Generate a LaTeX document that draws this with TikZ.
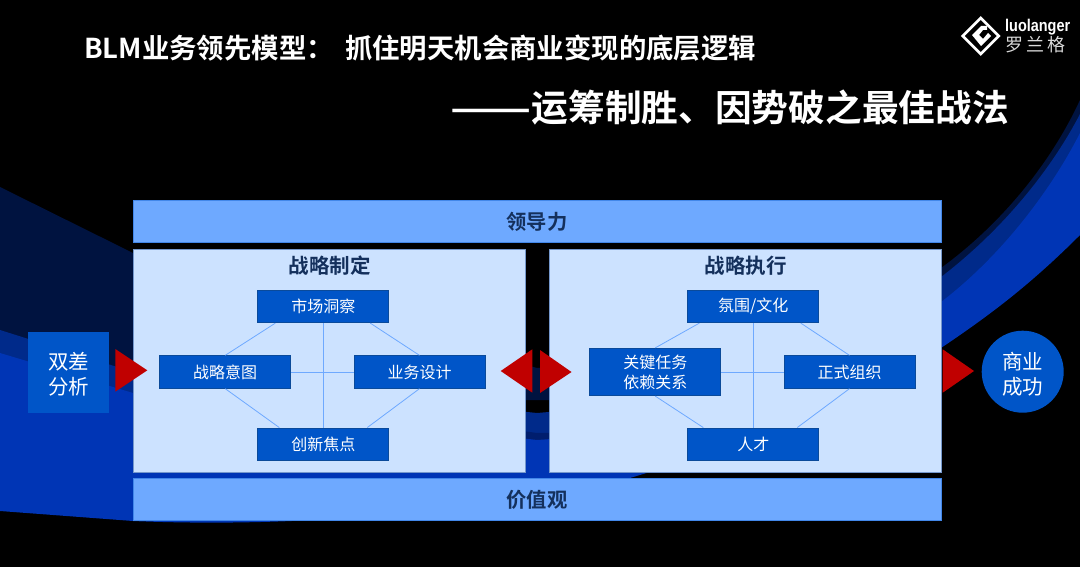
\documentclass[tikz,border=0pt]{standalone}
\usepackage{fontspec}
\setmainfont{Noto Sans CJK SC}
\newfontfamily\boldcjk{Noto Sans CJK SC Bold}
\newfontfamily\latinb{Liberation Sans Bold}
\definecolor{navy}{HTML}{001340}
\definecolor{midband}{HTML}{002A8A}
\definecolor{sliver}{HTML}{001E6E}
\definecolor{bright}{HTML}{0035B5}
\definecolor{barblue}{HTML}{6EA9FF}
\definecolor{panel}{HTML}{CCE2FF}
\definecolor{boxblue}{HTML}{0055C8}
\definecolor{boxedge}{HTML}{0A4A9A}
\definecolor{titledark}{HTML}{14305C}
\definecolor{tri}{HTML}{C00000}
\definecolor{linkblue}{HTML}{6EA9FF}
\tikzset{
 bar/.style={draw=barblue!60!boxblue,line width=.6pt,fill=barblue,minimum width=808pt,minimum height=42pt,inner sep=0pt,text=titledark,font=\boldcjk\fontsize{20.3}{22}\selectfont},
 panelbox/.style={draw=barblue!60!gray,line width=.7pt,fill=panel,inner sep=0pt},
 item/.style={draw=boxedge,line width=.8pt,fill=boxblue,inner sep=0pt,minimum width=131pt,minimum height=32.5pt,text=white,align=center,font=\fontsize{16}{20}\selectfont},
 side/.style={text=white,fill=boxblue,inner sep=0pt,align=center,font=\fontsize{20.5}{25}\selectfont},
 head/.style={text=titledark,font=\boldcjk\fontsize{20.5}{22}\selectfont,inner sep=0pt},
 link/.style={draw=linkblue,line width=.8pt},
 arrowtri/.style={fill=tri,draw=none},
 title/.style={text=white,inner sep=0pt,anchor=west},
}
\begin{document}
\begin{tikzpicture}[x=1pt,y=-1pt]
\path[use as bounding box,fill=black] (0,0) rectangle (1080,567);
% background sweep
\fill[navy] (0,187) -- (133,253) -- (537,368) -- (800,360) -- (941,268) .. controls (1000,225) and (1050,165) .. (1080,100) -- (1080,200) -- (941,340) -- (700,400) -- (0,400) -- cycle;
\fill[midband] (0,330) -- (133,372) -- (537,413) .. controls (700,400) and (850,340) .. (941,277) .. controls (1000,232) and (1050,172) .. (1080,114) -- (1080,200) -- (941,340) -- (700,450) -- (0,400) -- cycle;
\fill[sliver] (300,400) -- (537,433) -- (700,430) -- (700,445) -- (537,445) -- cycle;
\fill[bright] (0,353) -- (133,393) -- (537,440) .. controls (700,430) and (850,370) .. (941,302) .. controls (1000,257) and (1050,192) .. (1080,133) -- (1080,235) .. controls (1030,285) and (990,315) .. (941,348) .. controls (860,405) and (740,445) .. (630,478) .. controls (480,512) and (300,528) .. (133,521) -- (0,511) -- cycle;
% bars
\node[bar] (lead) at (537,221.5) {领导力};
\node[bar] (value) at (537,499.5) {价值观};
% panels
\node[panelbox,minimum width=392pt,minimum height=223pt] (left) at (329,360.5) {};
\node[panelbox,minimum width=392pt,minimum height=223pt] (right) at (745,360.5) {};
\node[head] (lefth) at (329.5,266) {战略制定};
\node[head] (righth) at (745.5,266) {战略执行};
% left items
\node[item] (a1) at (323.3,306.5) {市场洞察};
\node[item] (a2) at (225.2,372) {战略意图};
\node[item] (a3) at (419.5,372) {业务设计};
\node[item] (a4) at (323.3,444.2) {创新焦点};
\draw[link] (a1) -- (a4);
\draw[link] (a2) -- (a3);
\draw[link] ([xshift=-48pt]a1.south) -- (a2.north);
\draw[link] ([xshift=47pt]a1.south) -- (a3.north);
\draw[link] (a2.south) -- ([xshift=-44pt]a4.north);
\draw[link] (a3.south) -- ([xshift=44pt]a4.north);
% right items
\node[item] (b1) at (753.3,306.5) {氛围/文化};
\node[item,minimum height=47.5pt] (b2) at (655.3,372) {关键任务\\依赖关系};
\node[item] (b3) at (849.5,372) {正式组织};
\node[item] (b4) at (753.3,444.2) {人才};
\draw[link] (b1) -- (b4);
\draw[link] (b2) -- (b3);
\draw[link] ([xshift=-54pt]b1.south) -- (b2.north);
\draw[link] ([xshift=47.5pt]b1.south) -- (b3.north);
\draw[link] (b2.south) -- ([xshift=-50pt]b4.north);
\draw[link] (b3.south) -- ([xshift=44pt]b4.north);
% sides
\node[side,minimum width=81pt,minimum height=81pt] (dbl) at (68.5,372.5) {\rule{0pt}{20pt}双差\\分析};
\node[side,circle,minimum size=82pt] (succ) at (1022.7,371.7) {\rule{0pt}{22pt}商业\\成功};
% triangles
\fill[arrowtri] (115.3,349) -- (147.3,370.3) -- (115.3,391.7) -- cycle;
\fill[arrowtri] (532.3,349.3) -- (500.7,371) -- (532.3,392.7) -- cycle;
\fill[arrowtri] (540,350) -- (571.5,372) -- (540,393) -- cycle;
\fill[arrowtri] (942.7,349.3) -- (974,371) -- (942.7,392.7) -- cycle;
% titles
\node[title,font=\boldcjk\fontsize{27.4}{30}\selectfont] (t1) at (84,48) {BLM业务领先模型：\hspace{5pt} 抓住明天机会商业变现的底层逻辑};
\node[title,anchor=east,font=\boldcjk\fontsize{36.7}{40}\selectfont] (t2) at (1009,108) {\scalebox{1.3}[1]{——}运筹制胜、因势破之最佳战法};
% logo
\draw[white,line width=2.6pt] (980.7,18) -- (998.7,36) -- (980.7,54) -- (962.7,36) -- cycle;
\fill[white] (972,35) -- (981,26) -- (987,26) -- (987,30) -- (983,30) -- (979,35) -- (983,39) -- (988,33) -- (991,36) -- (981,46) -- cycle;
\node[text=white,inner sep=0pt,anchor=west,xscale=.85,transform shape,font=\latinb\fontsize{17}{18}\selectfont] (l1) at (1005,27) {luolanger};
\node[text=white!85!black,inner sep=0pt,anchor=west,font=\fontsize{18}{20}\selectfont] (l2) at (1005,45) {罗\,兰\,格};
\end{tikzpicture}
\end{document}
